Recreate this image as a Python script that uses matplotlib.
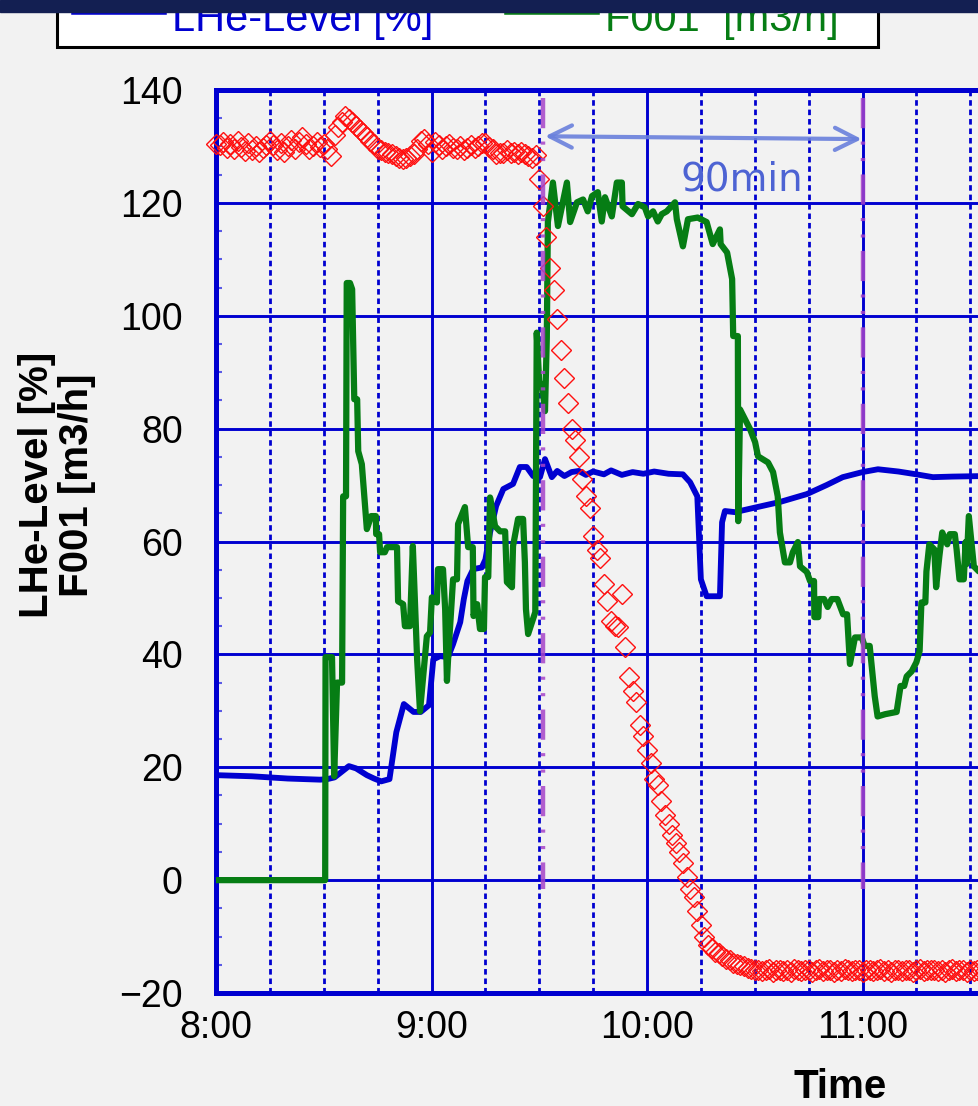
import matplotlib
matplotlib.use("Agg")
import matplotlib.pyplot as plt
import numpy as np
from matplotlib.ticker import MultipleLocator, FuncFormatter
from matplotlib.patches import Rectangle
from matplotlib.lines import Line2D

# --- data (minutes after 8:00) -------------------------------------------
lhe_min = [0, 10, 20, 29, 31, 33, 35, 37, 39, 42,
           44, 46, 48.3, 50.2, 52.3, 55, 57, 59.3, 60.5, 62.4,
           64.6, 66, 68, 69, 70, 71.6, 74, 75, 76.3, 78,
           80, 82.7, 84.6, 86.5, 88.3, 90.2, 91.6, 93.5, 95, 97,
           99, 101, 103, 105, 108, 110, 113, 116, 119, 122,
           126, 130, 132, 134, 135, 136.6, 140.3, 140.9, 141.7, 144.5,
           150, 157, 164.5, 170, 174.5, 180, 184.3, 190, 195, 199.6,
           205, 214]
lhe_val = [18.6, 18.4, 18.0, 17.8, 17.9, 18.2, 19.2, 20.2, 19.8, 18.6,
           18.0, 17.5, 17.9, 26.2, 31.2, 29.8, 29.8, 31.0, 39.1, 39.7,
           39.5, 41.8, 45.7, 49.8, 53.0, 55.1, 55.4, 56.8, 61.6, 66.3,
           69.3, 70.2, 73.2, 73.2, 71.6, 71.4, 74.6, 71.4, 72.5, 71.6,
           72.3, 72.5, 71.8, 72.4, 71.9, 72.6, 71.8, 72.3, 72.0, 72.4,
           72.0, 71.9, 70.5, 68.0, 53.3, 50.3, 50.3, 63.4, 65.4, 65.2,
           66.0, 67.0, 68.4, 70.0, 71.4, 72.3, 72.8, 72.4, 71.9, 71.4,
           71.5, 71.6]

f001_min = [0, 30.4, 30.5, 32.3, 32.9, 33.7, 35.1, 35.4, 36.2, 36.4,
            37.3, 37.9, 38.5, 39.3, 39.6, 40.6, 42.0, 43.2, 44.5, 44.6,
            45.4, 45.7, 47.0, 47.6, 50.4, 50.7, 52.1, 52.6, 54.0, 54.8,
            56.0, 56.8, 58.7, 59.6, 60.1, 61.5, 61.8, 63.2, 63.8, 64.3,
            64.6, 66.0, 67.1, 67.4, 69.3, 70.2, 71.5, 71.7, 72.7, 73.5,
            74.6, 74.9, 75.8, 76.3, 77.7, 79.1, 80.5, 81.0, 82.4, 82.7,
            84.1, 85.5, 86.0, 86.3, 86.9, 88.9, 89.3, 90.0, 90.8, 91.6,
            92.1, 92.4, 93.8, 95.2, 97.7, 98.6, 100.5, 102.2, 103.5, 104.7,
            106.3, 107.4, 108.3, 110.2, 111.6, 113.0, 113.2, 115.8, 117.5, 119.4,
            120.3, 121.7, 123.0, 124.1, 125.5, 127.8, 128.3, 130.0, 131.4, 134.1,
            136.6, 138.3, 140.3, 140.5, 142.3, 143.7, 144.0, 145.3, 145.4, 145.9,
            148.7, 150.1, 150.9, 153.7, 155.1, 156.4, 157.0, 158.4, 159.8, 160.6,
            162.0, 162.6, 164.5, 165.4, 166.5, 166.6, 167.7, 167.9, 169.3, 170.3,
            171.4, 173.0, 174.6, 175.7, 176.5, 177.9, 179.8, 180.6, 182.0, 183.4,
            184.2, 186.3, 189.5, 190.6, 191.6, 192.3, 193.7, 195.0, 195.9, 196.4,
            197.5, 197.8, 198.6, 200.0, 200.5, 201.4, 202.2, 203.6, 204.3, 205.7,
            206.2, 207.0, 208.2, 208.7, 209.0, 209.6, 211.0, 212.4, 214]
f001_val = [0, 0, 39.5, 39.5, 18.4, 35, 35, 68, 68, 105.8,
            105.8, 104.7, 85.2, 85.2, 76, 73.7, 62.2, 64.5, 64.5, 61.3,
            61.3, 58.1, 58.1, 59, 59, 49.4, 48.9, 45, 45, 59.2,
            39.1, 29.9, 43.2, 43.9, 50.1, 49.2, 55.1, 55.1, 48, 35.3,
            39, 53.3, 53.3, 63.1, 66.1, 59, 59, 46.8, 48.9, 44.5,
            44.5, 53.7, 53.7, 67.8, 62.7, 61.8, 61.8, 52.8, 51.9, 59.2,
            64, 64, 56.3, 48, 43.6, 47.5, 97, 88, 87.9, 83.1,
            96, 116.6, 123.6, 115.9, 123.6, 116.6, 120.1, 120.6, 118.5, 121.2,
            121.9, 116.7, 121, 117.6, 123.6, 123.6, 119.4, 118, 119.8, 119.2,
            117.6, 118.5, 116.7, 118, 118.5, 120.1, 117.1, 112.3, 117.1, 117.4,
            116.6, 112.7, 115.3, 112.7, 111.2, 106.5, 96.4, 96.4, 63.6, 83.4,
            79.9, 77.6, 75.1, 74, 72.3, 68, 61.6, 56.3, 56.3, 58.1,
            59.9, 55.6, 54.6, 53, 53, 46.6, 46.6, 49.8, 49.8, 48.4,
            49.8, 49.8, 47.1, 47.1, 38.3, 43, 43, 41.5, 41.5, 32.6,
            29, 29.4, 29.8, 34.4, 34.4, 36.1, 37, 38.6, 40.6, 49.2,
            49.2, 54.7, 59.5, 58.6, 51.9, 57.4, 61.6, 59.5, 61.3, 61.3,
            58.6, 53.3, 53.3, 59.9, 56, 64.5, 55.6, 54.7, 55]

# third series (red diamonds), one reading per minute from 8:00
red_pts = [
    130.5, 130.2, 130.8, 129.8, 130.4, 129.6, 130.9, 129.9, 129.2, 130.6,
    129.4, 130.1, 129.0, 129.7, 130.3, 131.0, 130.2, 129.4, 130.6, 129.1,
    130.0, 131.2, 129.6, 130.7, 131.6, 130.4, 129.5, 130.0, 130.8, 129.9,
    130.4, 129.6, 128.3, 132.0, 133.4, 134.4, 135.4, 134.8, 134.3, 133.6,
    133.0, 132.3, 131.6, 131.0, 130.4, 129.5, 129.3, 129.1, 128.8, 128.6,
    128.3, 128.0, 127.7, 127.9, 128.3, 128.6, 129.5, 130.9, 131.4, 130.4,
    129.1, 130.8, 130.2, 129.6, 130.0, 130.5, 129.7, 129.5, 130.1, 129.4,
    129.8, 130.3, 129.8, 130.0, 130.6, 130.6, 129.9, 129.5, 128.6, 128.8,
    128.9, 129.3, 128.9, 129.1, 128.7, 129.0, 128.6, 128.3, 128.0, 128.4,
    124.2, 119.5, 114.0, 108.5, 104.5, 99.4, 94.0, 89.0, 84.5, 80.0,
    78.0, 75.0, 71.0, 68.0, 66.0, 61.0, 58.5, 57.0, 52.5, 49.5,
    46.0, 45.0, 44.8, 50.7, 41.3, 36.0, 33.5, 31.5, 27.5, 25.5,
    23.0, 20.7, 18.0, 16.8, 14.0, 11.5, 10.0, 8.0, 6.5, 5.0,
    3.0, 0.5, -1.5, -3.0, -5.5, -8.0, -10.0, -11.5, -12.0, -12.7,
    -13.0, -13.5, -13.9, -14.2, -14.6, -14.9, -15.1, -15.3, -15.5, -15.8,
    -16.0, -15.9, -16.1, -16.0, -15.8, -16.2, -16.0, -15.9, -16.1, -16.0,
    -16.2, -15.8, -16.0, -16.1, -15.9, -16.0, -16.2, -16.0, -15.8, -16.1,
    -16.0, -15.9, -16.2, -16.0, -16.1, -15.8, -16.0, -16.1, -15.9, -16.0,
    -16.2, -16.0, -15.9, -16.1, -16.0, -15.8, -16.1, -16.0, -16.2, -15.9,
    -16.0, -16.1, -15.9, -16.0, -16.2, -16.0, -15.8, -16.1, -16.0, -16.0,
    -15.9, -16.1, -16.0, -16.2, -16.0, -15.8, -16.1, -16.0, -15.9, -16.2,
    -16.0, -16.1, -15.9, -16.0, -16.1, -16.0]

mark_min = [91, 180]          # purple markers
span_label = "90min"
hour_ticks = [8, 9, 10, 11]

blue = "#0000d0"
green = "#067d14"
purple = "#a644c8"

plt.rcParams["font.family"] = ["Liberation Sans", "DejaVu Sans"]

fig = plt.figure(figsize=(9.79, 11.06), dpi=100, facecolor="#f2f2f2")
# 215.5 px per hour, axes runs on past the right edge of the picture
ax = fig.add_axes([216 / 979, 113 / 1106, 3.9 * 215.5 / 979, 903 / 1106])
ax.set_facecolor("#f2f2f2")

hrs = lambda m: 8 + np.asarray(m, dtype=float) / 60.0

ax.plot(hrs(lhe_min), lhe_val, color=blue, lw=4.2, zorder=3)
ax.plot(hrs(f001_min), f001_val, color=green, lw=4.5, zorder=4)
ax.plot(hrs(np.arange(len(red_pts))), red_pts, ls="none", marker="D", ms=10.5,
        mfc="none", mec="#ff1010", mew=1.0, zorder=5, clip_on=False)

for m in mark_min:
    ax.plot(hrs([m, m]), [138.5, -1.5], color=purple, alpha=0.85, lw=3.2,
            ls=(0, (6.8, 3.0, 0.7, 3.0, 0.7, 3.0)), zorder=6)

ax.annotate("", xy=(hrs(179.8), 131.3), xytext=(hrs(91.6), 131.8),
            arrowprops=dict(arrowstyle="<->,head_length=0.8,head_width=0.4",
                            color="#6a80dc", lw=3, mutation_scale=20,
                            shrinkA=0, shrinkB=0, alpha=0.9), zorder=7)
ax.text(hrs(146.4), 124.2, span_label, ha="center", va="center",
        fontsize=28, color="#4d63d3", family="DejaVu Sans", zorder=7)

# axes / grid
ax.set_xlim(8, 11.9)
ax.set_ylim(-20, 140)
ax.set_xticks(hour_ticks)
ax.xaxis.set_minor_locator(MultipleLocator(0.25))
ax.xaxis.set_major_formatter(FuncFormatter(lambda v, p: "%d:00" % round(v)))
ax.yaxis.set_major_locator(MultipleLocator(20))
ax.yaxis.set_minor_locator(MultipleLocator(5))

ax.grid(which="major", color=blue, lw=2.1, ls="-", zorder=1)
ax.grid(which="minor", axis="x", color=blue, lw=2.0,
        ls=(0, (2.0, 1.4)), zorder=1)
ax.set_axisbelow(True)

for s in ax.spines.values():
    s.set_color(blue)
    s.set_linewidth(3.6)

ax.tick_params(axis="x", which="both", length=0, labelsize=27, pad=12)
ax.tick_params(axis="y", which="major", length=0, labelsize=27, pad=24)
ax.tick_params(axis="y", which="minor", direction="in", length=4.5,
               width=1.5, color="#5a5ae6")

ax.set_ylabel("LHe-Level [%]\nF001 [m3/h]", fontsize=29, fontweight="bold",
              linespacing=1.05, va="center", ha="center")
ax.yaxis.set_label_coords((57 - 216) / (3.9 * 215.5), 0.5626)
ax.set_xlabel("Time", fontsize=29, fontweight="bold")
ax.xaxis.set_label_coords((840 - 216) / (3.9 * 215.5), -0.083)

# legend box, cut by the dark band at the top
W, H = 979.0, 1106.0
fig.add_artist(Rectangle((57 / W, 1 - 47 / H), 821 / W, 70 / H,
                         transform=fig.transFigure, facecolor="white",
                         edgecolor="black", lw=2.2, zorder=8))
for x0, col, lab in [(74, blue, "LHe-Level [%]"), (507, green, "F001  [m3/h]")]:
    fig.add_artist(Line2D([x0 / W, (x0 + 90) / W], [1 - 12 / H] * 2,
                          transform=fig.transFigure, color=col, lw=4.0,
                          zorder=9))
    fig.text((x0 + 98) / W, 1 - 31 / H, lab, color=col, fontsize=30,
             va="baseline", ha="left", zorder=9)

# dark band at the very top
fig.add_artist(Rectangle((0, 1 - 12 / H), 1, 12 / H,
                         transform=fig.transFigure, color="#131f52",
                         zorder=10))

fig.savefig("out.png", dpi=100, facecolor=fig.get_facecolor())
